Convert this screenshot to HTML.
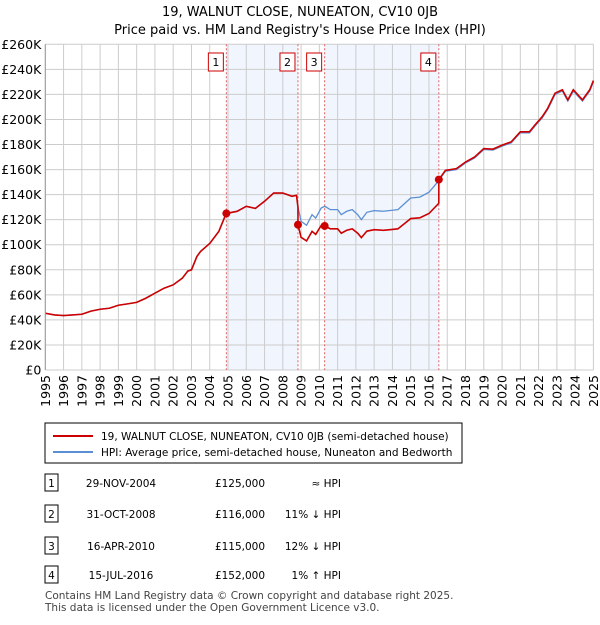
<!DOCTYPE html>
<html><head><meta charset="utf-8"><style>
body{margin:0;background:#fff;font-family:"Liberation Sans","DejaVu Sans",sans-serif;}
svg text{font-family:"DejaVu Sans","Liberation Sans",sans-serif;}
</style></head><body>
<svg id="c" width="600" height="620" xmlns="http://www.w3.org/2000/svg">
<text x="300" y="16" text-anchor="middle" font-size="13">19, WALNUT CLOSE, NUNEATON, CV10 0JB</text>
<text x="300" y="34" text-anchor="middle" font-size="13">Price paid vs. HM Land Registry's House Price Index (HPI)</text>
<g id="plot"></g>
<rect x="45" y="423" width="417" height="40" fill="#fff" stroke="#000"/>
<line x1="53" y1="436" x2="93" y2="436" stroke="#cc0000" stroke-width="2"/>
<text x="101" y="440" font-size="10.5">19, WALNUT CLOSE, NUNEATON, CV10 0JB (semi-detached house)</text>
<line x1="53" y1="452" x2="93" y2="452" stroke="#5b8fd4" stroke-width="2"/>
<text x="101" y="456" font-size="10.5">HPI: Average price, semi-detached house, Nuneaton and Bedworth</text>
<g id="tbl"></g>
<text x="45" y="599" font-size="10.5" fill="#444">Contains HM Land Registry data © Crown copyright and database right 2025.</text>
<text x="45" y="611" font-size="10.5" fill="#444">This data is licensed under the Open Government Licence v3.0.</text>
</svg>
<script>
const hpiYears=[1995,1995.5,1996,1996.5,1997,1997.5,1998,1998.5,1999,1999.5,2000,2000.5,2001,2001.5,2002,2002.5,2002.8,2003,2003.3,2003.5,2004,2004.5,2004.9,2005.5,2006,2006.5,2007,2007.5,2008,2008.5,2008.75,2008.83,2009,2009.3,2009.6,2009.8,2010.1,2010.3,2010.6,2011,2011.2,2011.5,2011.8,2012.1,2012.3,2012.6,2013,2013.5,2014,2014.3,2014.7,2015,2015.5,2016,2016.5,2016.9,2017.5,2018,2018.5,2019,2019.5,2020,2020.5,2021,2021.5,2021.8,2022.2,2022.5,2022.9,2023.3,2023.6,2023.9,2024.4,2024.8,2025];
const hpiValues=[45.3,44,43.5,44,44.5,47,48.5,49.3,51.7,52.8,54,57.3,61.3,65.3,68,73.3,79,80,90.7,94.7,101,110.7,125,126.7,130.7,129,134.7,141.3,141.3,138.7,139.5,130,118.7,115.5,124,121.3,129.3,130.7,128,128,124,126.7,128,124,120,125.9,127.2,126.7,127.5,128,133.3,137.3,138,141.9,150.5,158.7,160,165.3,169.3,176,175.5,178.7,181.3,189.3,189.3,194.7,201.3,208,220,222.7,214.7,222.7,214.7,222.7,230];
const saleDates=[2004.91,2008.83,2010.29,2016.54];
const salePrices=[125,116,115,152];
const saleLabels=["1","2","3","4"];
const saleDateText=["29-NOV-2004","31-OCT-2008","16-APR-2010","15-JUL-2016"];
const salePriceText=["£125,000","£116,000","£115,000","£152,000"];
const saleHpiText=["≈ HPI","11% ↓ HPI","12% ↓ HPI","1% ↑ HPI"];
const yTicks=[0,20,40,60,80,100,120,140,160,180,200,220,240,260];
const xTicks=[1995,1996,1997,1998,1999,2000,2001,2002,2003,2004,2005,2006,2007,2008,2009,2010,2011,2012,2013,2014,2015,2016,2017,2018,2019,2020,2021,2022,2023,2024,2025];

const L=45.3,R=593.4,T=44.3,B=370;
const X=y=>L+(y-1995)/30*(R-L);
const Y=v=>B-v/260*(B-T);
const NS="http://www.w3.org/2000/svg";
const plot=document.getElementById('plot');
function mk(tag,attrs,parent){const e=document.createElementNS(NS,tag);for(const k in attrs)e.setAttribute(k,attrs[k]);(parent||plot).appendChild(e);return e;}
function hpiAt(t){for(let i=0;i<hpiYears.length-1;i++){if(t<=hpiYears[i+1]){const f=(t-hpiYears[i])/(hpiYears[i+1]-hpiYears[i]);return hpiValues[i]+f*(hpiValues[i+1]-hpiValues[i]);}}return hpiValues[hpiValues.length-1];}

for(let i=0;i<saleDates.length;i+=2){
  const r=mk('rect',{x:X(saleDates[i]),y:T,width:X(saleDates[i+1])-X(saleDates[i]),height:B-T,fill:'#eef3fd',opacity:0.8});
  
  
}
yTicks.forEach(v=>{
  const l=mk('line',{x1:L,x2:R,y1:Y(v),y2:Y(v),stroke:'#ccc'});
  
  
  const t=mk('text',{x:L-4,y:Y(v)+4.5,'text-anchor':'end','font-size':'12.5'});
  t.textContent='£'+(v===0?'0':v+'K');
  
  
});
xTicks.forEach(yr=>{
  const l=mk('line',{x1:X(yr),x2:X(yr),y1:T,y2:B,stroke:'#ccc'});
  
  
  const t=mk('text',{transform:`translate(${X(yr)+4.5},${B+5}) rotate(-90)`,'text-anchor':'end','font-size':'12.5'});
  t.textContent=yr;
  
  
});
saleDates.forEach((d,i)=>{
  const l=mk('line',{x1:X(d),x2:X(d),y1:T,y2:B,stroke:'#e06060','stroke-dasharray':'2,2'});
  
  
  const r=mk('rect',{x:X(d)-18,y:53,width:15,height:18,fill:'#fff',stroke:'#cc0000'});
  
  
  const t=mk('text',{x:X(d)-10.5,y:66,'text-anchor':'middle','font-size':'11'});
  t.textContent=saleLabels[i];
  
  
});
const hp=mk('polyline',{points:hpiYears.map((y,i)=>X(y)+','+Y(hpiValues[i])).join(' '),fill:'none',stroke:'#5b8fd4','stroke-width':1.3});


const pts=[];
const ratio=t=>{let k=0;for(let i=0;i<saleDates.length;i++)if(t>=saleDates[i])k=i;return salePrices[k]/hpiAt(saleDates[k]);};
const times=[...hpiYears];saleDates.forEach(d=>{times.push(d-0.001);times.push(d);});
times.sort((a,b)=>a-b).forEach(t=>pts.push(X(t)+','+Y(hpiAt(t)*ratio(t))));
const pl=mk('polyline',{points:pts.join(' '),fill:'none',stroke:'#cc0000','stroke-width':1.6});


saleDates.forEach((d,i)=>{
  const c=mk('circle',{cx:X(d),cy:Y(salePrices[i]),r:4,fill:'#cc0000'});
  
  
});
mk('line',{x1:L,x2:L,y1:T,y2:B,stroke:'#999'});
const tbl=document.getElementById('tbl');
const rowY=[483,514,546,575];
saleLabels.forEach((lab,i)=>{
  const y=rowY[i];
  const r=mk('rect',{x:45,y:y-9,width:13,height:17,fill:'#fff',stroke:'#000'},tbl);
  
  
  const cols=[[51.5,lab,'middle'],[121,saleDateText[i],'middle'],[240,salePriceText[i],'middle'],[341,saleHpiText[i],'end']];
  cols.forEach(c=>{
    const t=mk('text',{x:c[0],y:y+4,'text-anchor':c[2],'font-size':'10.5'},tbl);
    t.textContent=c[1];
    
    
  });
});
</script>
</body></html>
